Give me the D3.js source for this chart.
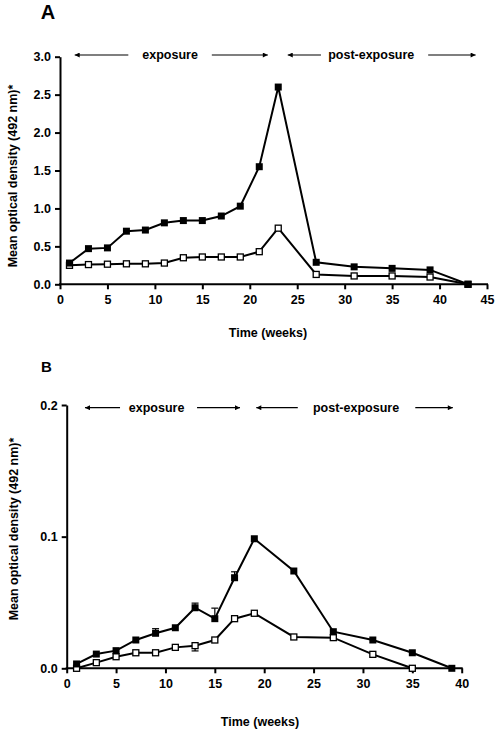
<!DOCTYPE html>
<html><head><meta charset="utf-8">
<script src="https://cdn.jsdelivr.net/npm/d3@7"></script>
<style>
body{margin:0;background:#fff;}
svg{display:block;font-family:"Liberation Sans",Arial,sans-serif;}
</style></head>
<body><svg id="c" width="498" height="735"></svg>
<script>
// ---- Panel A data ----
const weeksA = [1,3,5,7,9,11,13,15,17,19,21,23,27,31,35,39,43];
const filledA = [0.28,0.47,0.48,0.70,0.715,0.81,0.84,0.84,0.90,1.03,1.55,2.60,0.29,0.23,0.21,0.19,0.0];
const openA   = [0.25,0.26,0.265,0.27,0.27,0.28,0.35,0.36,0.36,0.36,0.43,0.74,0.13,0.11,0.11,0.096,0.0];
const xTicksA = [0,5,10,15,20,25,30,35,40,45];
const yTicksA = [0,0.5,1.0,1.5,2.0,2.5,3.0];

// ---- Panel B data ----
const weeksB = [1,3,5,7,9,11,13,15,17,19,23,27,31,35,39];
const filledB = [0.0033,0.0108,0.0134,0.0215,0.0266,0.0308,0.046,0.0377,0.0688,0.0984,0.0739,0.0278,0.0215,0.0118,0.0];
const openB   = [0.0,0.0043,0.0088,0.0118,0.0118,0.0159,0.0172,0.0215,0.0377,0.0418,0.0238,0.0233,0.0106,0.0,null];
const errFilledB = [0,0,0,0,0.0035,0,0.0035,0.008,0.0045,0,0,0,0,0,0];
const errOpenB   = [0,0,0,0,0,0,0.004,0,0,0,0,0,0,0,0];
const xTicksB = [0,5,10,15,20,25,30,35,40];
const yTicksB = [0,0.1,0.2];

const svg = d3.select("#c");
const FS = 12.5;

function panel(cfg){
  const g = svg.append("g");
  const x = d3.scaleLinear().domain(cfg.xdom).range([cfg.left, cfg.right]);
  const y = d3.scaleLinear().domain(cfg.ydom).range([cfg.bottom, cfg.top]);

  const xa = g.append("g").attr("transform",`translate(0,${cfg.bottom})`)
    .call(d3.axisBottom(x).tickValues(cfg.xticks).tickSize(5).tickSizeOuter(0).tickPadding(6).tickFormat(d3.format("d")));
  const ya = g.append("g").attr("transform",`translate(${cfg.left},0)`)
    .call(d3.axisLeft(y).tickValues(cfg.yticks).tickSize(5).tickSizeOuter(0).tickPadding(4).tickFormat(d3.format(".1f")));
  [xa,ya].forEach(a=>{
    a.selectAll("path.domain").attr("stroke","#000").attr("stroke-width",2);
    a.selectAll(".tick line").attr("stroke","#000").attr("stroke-width",2);
    a.selectAll("text").attr("fill","#000").attr("font-size",FS).attr("font-weight","bold");
  });
  xa.select("path.domain").attr("d",`M${cfg.left-1},0H${cfg.right+1}`);

  g.append("text").attr("x",cfg.xtitleX).attr("y",cfg.xtitleY).attr("text-anchor","middle")
    .attr("font-size",FS).attr("font-weight","bold").text("Time (weeks)");
  g.append("text").attr("transform",`translate(${cfg.ytitleX},${cfg.ytitleY}) rotate(-90)`)
    .attr("text-anchor","middle").attr("font-size",FS).attr("font-weight","bold")
    .text("Mean optical density (492 nm)*");
  g.append("text").attr("x",cfg.labX).attr("y",cfg.labY).attr("text-anchor","middle")
    .attr("font-size",cfg.labSize).attr("font-weight","bold").text(cfg.label);

  const defsId = "ah"+cfg.label;
  svg.append("defs").append("marker").attr("id",defsId).attr("viewBox","0 0 10 10")
    .attr("refX",10).attr("refY",5).attr("markerWidth",7).attr("markerHeight",5).attr("markerUnits","userSpaceOnUse")
    .attr("orient","auto").append("path").attr("d","M0,0L10,5L0,10Z").attr("fill","#000");
  cfg.arrows.forEach(a=>{
    const ay = cfg.arrowY;
    g.append("line").attr("x1",x(a.from)).attr("x2",x(a.to)).attr("y1",ay).attr("y2",ay)
      .attr("stroke","#000").attr("stroke-width",1.2).attr("marker-end",`url(#${defsId})`);
  });
  cfg.arrowTexts.forEach(t=>{
    g.append("text").attr("x",x(t.at)).attr("y",cfg.arrowY+4).attr("text-anchor","middle")
      .attr("font-size",FS).attr("font-weight","bold").text(t.text);
  });

  const drawErr = (vals, errs, dir) => {
    cfg.weeks.forEach((w,i)=>{
      if(vals[i]==null || !errs[i]) return;
      const y0 = y(vals[i]), y1 = y(vals[i]+dir*errs[i]);
      g.append("line").attr("x1",x(w)).attr("x2",x(w)).attr("y1",y0).attr("y2",y1).attr("stroke","#000").attr("stroke-width",1.2);
      g.append("line").attr("x1",x(w)-3.5).attr("x2",x(w)+3.5).attr("y1",y1).attr("y2",y1).attr("stroke","#000").attr("stroke-width",1.2);
    });
  };
  if(cfg.errF) drawErr(cfg.filled, cfg.errF, 1);
  if(cfg.errO) drawErr(cfg.open, cfg.errO, -1);

  const line = d3.line().defined(d=>d[1]!=null).x(d=>x(d[0])).y(d=>y(d[1]));
  const ptsF = cfg.weeks.map((w,i)=>[w,cfg.filled[i]]);
  const ptsO = cfg.weeks.map((w,i)=>[w,cfg.open[i]]).filter(d=>d[1]!=null);
  g.append("path").attr("d",line(ptsO)).attr("fill","none").attr("stroke","#000").attr("stroke-width",2);
  g.append("path").attr("d",line(ptsF)).attr("fill","none").attr("stroke","#000").attr("stroke-width",2);
  const s = 6;
  g.selectAll(null).data(ptsO).enter().append("rect")
    .attr("x",d=>x(d[0])-s/2).attr("y",d=>y(d[1])-s/2).attr("width",s).attr("height",s)
    .attr("fill","#fff").attr("stroke","#000").attr("stroke-width",1.3);
  g.selectAll(null).data(ptsF).enter().append("rect")
    .attr("x",d=>x(d[0])-(s+1)/2).attr("y",d=>y(d[1])-(s+1)/2).attr("width",s+1).attr("height",s+1)
    .attr("fill","#000");
}

panel({
  label:"A", labX:48, labY:19, labSize:20,
  xdom:[0,45], ydom:[0,3], left:60, right:487, top:56.7, bottom:284.3,
  xticks:xTicksA, yticks:yTicksA,
  weeks:weeksA, filled:filledA, open:openA,
  xtitleX:268, xtitleY:337, ytitleX:17, ytitleY:176,
  arrowY:55,
  arrows:[{from:7.2,to:1.55},{from:16.0,to:21.9},{from:27.5,to:24.0},{from:38.8,to:43.8}],
  arrowTexts:[{at:11.6,text:"exposure"},{at:32.8,text:"post-exposure"}]
});

panel({
  label:"B", labX:46.5, labY:372, labSize:15,
  xdom:[0,40], ydom:[0,0.2], left:66.7, right:461.7, top:405, bottom:668.3,
  xticks:xTicksB, yticks:yTicksB,
  weeks:weeksB, filled:filledB, open:openB, errF:errFilledB, errO:errOpenB,
  xtitleX:260, xtitleY:726, ytitleX:18, ytitleY:529,
  arrowY:407.7,
  arrows:[{from:5.4,to:1.85},{from:13.2,to:17.55},{from:23.4,to:19.2},{from:35.3,to:39.1}],
  arrowTexts:[{at:9.1,text:"exposure"},{at:29.3,text:"post-exposure"}]
});
</script></body></html>
